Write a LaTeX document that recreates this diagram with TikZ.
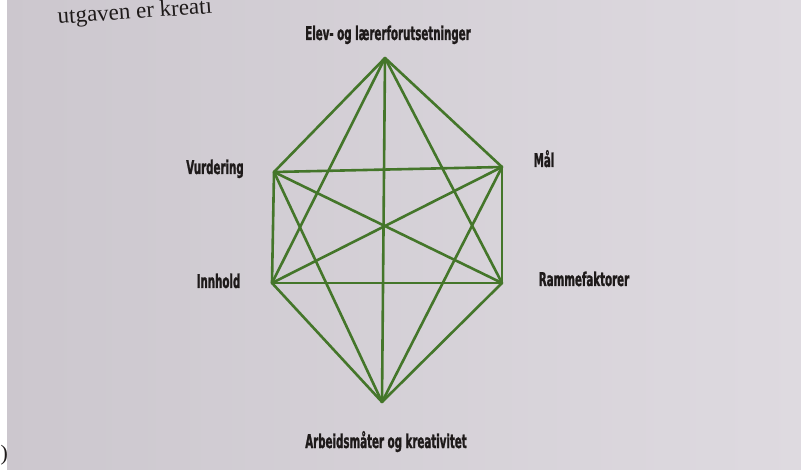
\documentclass[tikz,border=0pt]{standalone}
\usepackage{fontspec}
\setmainfont{Liberation Serif}
\newfontfamily\labfont[FakeStretch=0.6,FakeBold=1.2]{DejaVu Sans Condensed Bold}
\definecolor{pageL}{RGB}{204,199,206}
\definecolor{pageR}{RGB}{222,218,224}
\definecolor{edgegreen}{RGB}{68,118,42}
\definecolor{inkc}{RGB}{30,26,26}
\tikzset{
  edge/.style={draw=edgegreen, line width=2.6pt, line cap=round, line join=round},
  lab/.style={font=\labfont\fontsize{19}{20}\selectfont, text=inkc, inner sep=0pt, anchor=base}
}
\begin{document}
\begin{tikzpicture}[x=1pt,y=-1pt]
\useasboundingbox (0,0) rectangle (801,470);
\clip (0,0) rectangle (801,470);
\shade[left color=pageL, right color=pageR] (0,0) rectangle (801,470);
\fill[white] (0,0) rectangle (7,470);
\node[font=\fontsize{22}{24}\selectfont, text=inkc, anchor=west, inner sep=0pt] (paren) at (0.5,455) {)};
\node[font=\fontsize{23}{25}\selectfont, text=inkc, anchor=base west, inner sep=0pt, rotate=4] (topline) at (58,24) {utgaven er kreati};
% vertices
\coordinate (T) at (385,58);
\coordinate (V) at (274,172);
\coordinate (M) at (502,167);
\coordinate (I) at (272,283);
\coordinate (R) at (502,283);
\coordinate (B) at (382,402);
% complete graph
\foreach \a/\b in {T/V,T/M,T/I,T/R,T/B,V/M,V/I,V/R,V/B,M/I,M/R,M/B,I/R,I/B,R/B}
  \draw[edge] (\a) -- (\b);
% labels
\node[lab] (lT) at (388,40) {Elev- og lærerforutsetninger};
\node[lab] (lV) at (215,174) {Vurdering};
\node[lab] (lM) at (544,167) {Mål};
\node[lab] (lI) at (218.5,288) {Innhold};
\node[lab] (lR) at (584,286) {Rammefaktorer};
\node[lab] (lB) at (386,448) {Arbeidsmåter og kreativitet};
\end{tikzpicture}
\end{document}
